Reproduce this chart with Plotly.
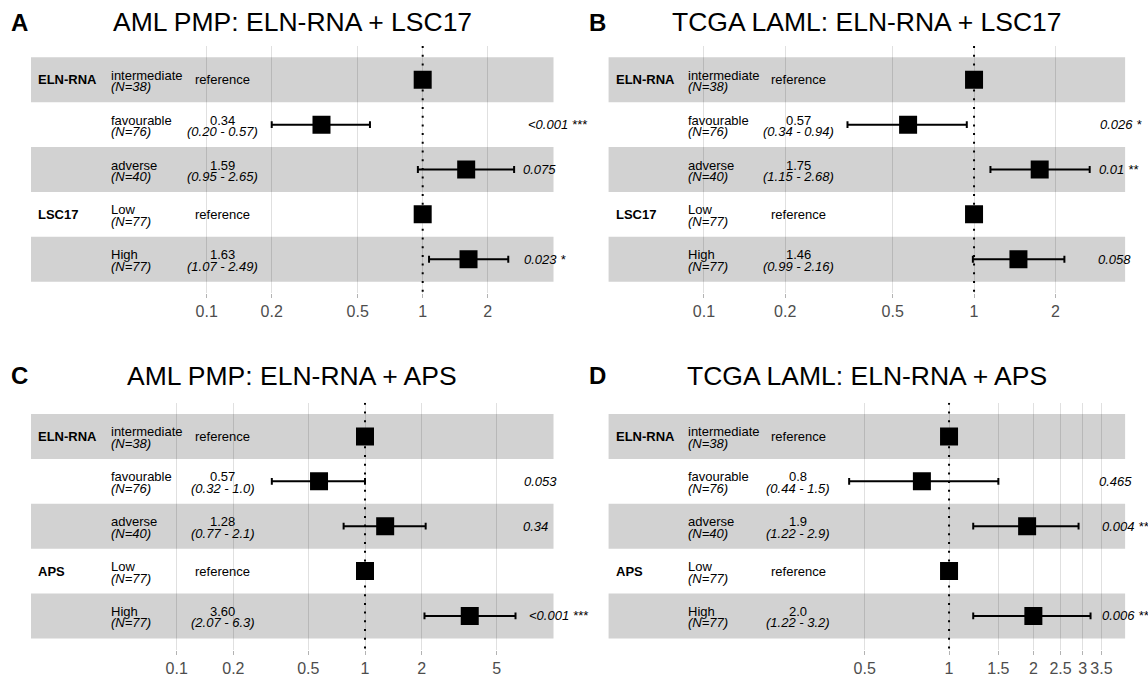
import numpy as np
import plotly.graph_objects as go

FONT = "Liberation Sans, Arial, Helvetica, sans-serif"

# ---------------- data ----------------
panel_letters = ["A", "B", "C", "D"]
panel_titles = ["AML PMP: ELN-RNA + LSC17", "TCGA LAML: ELN-RNA + LSC17",
                "AML PMP: ELN-RNA + APS", "TCGA LAML: ELN-RNA + APS"]

levels = ["intermediate", "favourable", "adverse", "Low", "High"]
n_patients = [38, 76, 40, 77, 77]

A_vars = ["ELN-RNA", "", "", "LSC17", ""]
A_hr = [1, 0.34, 1.59, 1, 1.63]
A_lo = [1, 0.20, 0.95, 1, 1.07]
A_hi = [1, 0.57, 2.65, 1, 2.49]
A_est = ["reference", "0.34", "1.59", "reference", "1.63"]
A_ci = ["", "(0.20 - 0.57)", "(0.95 - 2.65)", "", "(1.07 - 2.49)"]
A_p = ["", "<0.001 ***", "0.075", "", "0.023 *"]

B_vars = ["ELN-RNA", "", "", "LSC17", ""]
B_hr = [1, 0.57, 1.75, 1, 1.46]
B_lo = [1, 0.34, 1.15, 1, 0.99]
B_hi = [1, 0.94, 2.68, 1, 2.16]
B_est = ["reference", "0.57", "1.75", "reference", "1.46"]
B_ci = ["", "(0.34 - 0.94)", "(1.15 - 2.68)", "", "(0.99 - 2.16)"]
B_p = ["", "0.026 *", "0.01 **", "", "0.058"]

C_vars = ["ELN-RNA", "", "", "APS", ""]
C_hr = [1, 0.57, 1.28, 1, 3.60]
C_lo = [1, 0.32, 0.77, 1, 2.07]
C_hi = [1, 1.0, 2.1, 1, 6.3]
C_est = ["reference", "0.57", "1.28", "reference", "3.60"]
C_ci = ["", "(0.32 - 1.0)", "(0.77 - 2.1)", "", "(2.07 - 6.3)"]
C_p = ["", "0.053", "0.34", "", "<0.001 ***"]

D_vars = ["ELN-RNA", "", "", "APS", ""]
D_hr = [1, 0.8, 1.9, 1, 2.0]
D_lo = [1, 0.44, 1.22, 1, 1.22]
D_hi = [1, 1.5, 2.9, 1, 3.2]
D_est = ["reference", "0.8", "1.9", "reference", "2.0"]
D_ci = ["", "(0.44 - 1.5)", "(1.22 - 2.9)", "", "(1.22 - 3.2)"]
D_p = ["", "0.465", "0.004 **", "", "0.006 **"]

AB_ticks = [0.1, 0.2, 0.5, 1, 2]
AB_ticklabels = ["0.1", "0.2", "0.5", "1", "2"]
C_ticks = [0.1, 0.2, 0.5, 1, 2, 5]
C_ticklabels = ["0.1", "0.2", "0.5", "1", "2", "5"]
D_ticks = [0.5, 1, 1.5, 2, 2.5, 3, 3.5]
D_ticklabels = ["0.5", "1", "1.5", "2", "2.5", "3", "3.5"]

panels = [
    (A_vars, A_hr, A_lo, A_hi, A_est, A_ci, A_p, AB_ticks, AB_ticklabels),
    (B_vars, B_hr, B_lo, B_hi, B_est, B_ci, B_p, AB_ticks, AB_ticklabels),
    (C_vars, C_hr, C_lo, C_hi, C_est, C_ci, C_p, C_ticks, C_ticklabels),
    (D_vars, D_hr, D_lo, D_hi, D_est, D_ci, D_p, D_ticks, D_ticklabels),
]

# ---------------- layout constants ----------------
W, H = 1148, 675
# band extent (log10 units) of each panel
band_ranges = [(-1.8134, 0.6056), (-1.3530, 0.5593), (-1.7738, 1.0011), (-1.2154, 0.6286)]
EXP = 0.02
xdom_left = [20.55 / W, 563.95 / W]
xdom_right = [598.25 / W, 1135.45 / W]
ydom_top = [1 - 292.9 / H, 1 - 46.1 / H]
ydom_bot = [1 - 649.6 / H, 1 - 402.8 / H]
xdoms = [xdom_left, xdom_right, xdom_left, xdom_right]
ydoms = [ydom_top, ydom_top, ydom_bot, ydom_bot]
title_x = [292.2, 866.8, 292.2, 866.8]
title_y = [22, 22, 375.5, 375.5]
letter_x = [19, 597, 19, 597]
cpos = [0.010, 0.149, 0.367]

CHAR_W = {".": 0.278, "<": 0.584, " ": 0.278, "*": 0.389}


def text_width(s, size=13):
    return sum(CHAR_W.get(c, 0.556) for c in s) * size


fig = go.Figure()
annotations = []
shapes = []

for i, (vars_, hr, lo, hi, est, ci, pv, ticks, ticklabels) in enumerate(panels):
    s = "" if i == 0 else str(i + 1)
    xa, ya = "x" + s, "y" + s
    rows = list(range(1, len(hr) + 1))
    lo_b, hi_b = band_ranges[i]
    wb = hi_b - lo_b
    xrange = [lo_b - EXP * wb, hi_b + EXP * wb]

    # alternating bands (drawn below the semi-transparent grid lines)
    for r in rows:
        if r % 2 == 1:
            shapes.append(dict(type="rect", xref=xa + " domain", yref=ya,
                               x0=EXP / (1 + 2 * EXP), x1=(1 + EXP) / (1 + 2 * EXP),
                               y0=r - 0.5, y1=r + 0.5, layer="below", line=dict(width=0),
                               fillcolor="#d2d2d2"))

    # dotted reference line at HR = 1
    fig.add_trace(go.Scatter(x=[1, 1], y=[0.25, len(hr) + 0.75], mode="lines",
                             line=dict(color="black", width=2, dash="2px,6.7px"),
                             xaxis=xa, yaxis=ya, showlegend=False, hoverinfo="skip"))
    # points + CIs
    fig.add_trace(go.Scatter(
        x=hr, y=rows, mode="markers",
        marker=dict(symbol="square", size=18, color="black", line=dict(width=0)),
        error_x=dict(type="data", symmetric=False,
                     array=[h - e for h, e in zip(hi, hr)],
                     arrayminus=[e - l for e, l in zip(hr, lo)],
                     color="black", thickness=2, width=3.4),
        xaxis=xa, yaxis=ya, showlegend=False, hoverinfo="skip"))

    fig.layout["xaxis" + s] = dict(
        domain=xdoms[i], anchor=ya, type="log", range=xrange,
        tickvals=ticks, ticktext=ticklabels, showgrid=True, gridcolor="rgba(0,0,0,0.12)",
        gridwidth=1, zeroline=False, showline=False, ticks="outside", ticklen=4,
        tickcolor="#b3b3b3", tickwidth=1,
        tickfont=dict(size=16, color="#4d4d4d", family=FONT), automargin=False)
    fig.layout["yaxis" + s] = dict(
        domain=ydoms[i], anchor=xa, range=[len(hr) + 0.75, 0.25], showgrid=False,
        zeroline=False, showticklabels=False, showline=False, ticks="", automargin=False)

    def dom_x(c):
        return (EXP + c) / (1 + 2 * EXP)

    pmax = max(hi)
    for k, r in enumerate(rows):
        base = dict(xref=xa + " domain", yref=ya, y=r, showarrow=False,
                    font=dict(size=13, color="black", family=FONT))
        if vars_[k]:
            annotations.append(dict(base, x=dom_x(cpos[0]), xanchor="left",
                                    text="<b>" + vars_[k] + "</b>"))
        annotations.append(dict(base, x=dom_x(cpos[1]), xanchor="left", yshift=4.5,
                                text=levels[k]))
        annotations.append(dict(base, x=dom_x(cpos[1]), xanchor="left", yshift=-7,
                                text="<i>(N=%d)</i>" % n_patients[k]))
        if est[k] == "reference":
            annotations.append(dict(base, x=dom_x(cpos[2]), xanchor="center", text=est[k]))
        else:
            annotations.append(dict(base, x=dom_x(cpos[2]), xanchor="center", yshift=4.5,
                                    text=est[k]))
            annotations.append(dict(base, x=dom_x(cpos[2]), xanchor="center", yshift=-7,
                                    text="<i>" + ci[k] + "</i>"))
        if pv[k]:
            annotations.append(dict(xref=xa, yref=ya, x=np.log10(pmax), y=r, showarrow=False,
                                    xanchor="left", xshift=0.2 * text_width(pv[k]),
                                    text="<i>" + pv[k] + "</i>",
                                    font=dict(size=13, color="black", family=FONT)))

    # title and panel letter
    annotations.append(dict(xref="paper", yref="paper", x=title_x[i] / W, y=1 - title_y[i] / H,
                            xanchor="center", yanchor="middle", showarrow=False,
                            text=panel_titles[i], font=dict(size=26.5, color="black", family=FONT)))
    annotations.append(dict(xref="paper", yref="paper", x=letter_x[i] / W, y=1 - title_y[i] / H,
                            xanchor="center", yanchor="middle", showarrow=False,
                            text="<b>" + panel_letters[i] + "</b>",
                            font=dict(size=24, color="black", family=FONT)))

fig.update_layout(
    template="none", width=W, height=H, margin=dict(l=0, r=0, t=0, b=0),
    paper_bgcolor="white", plot_bgcolor="white", showlegend=False,
    font=dict(family=FONT), annotations=annotations, shapes=shapes)

fig.write_html("out.html")
